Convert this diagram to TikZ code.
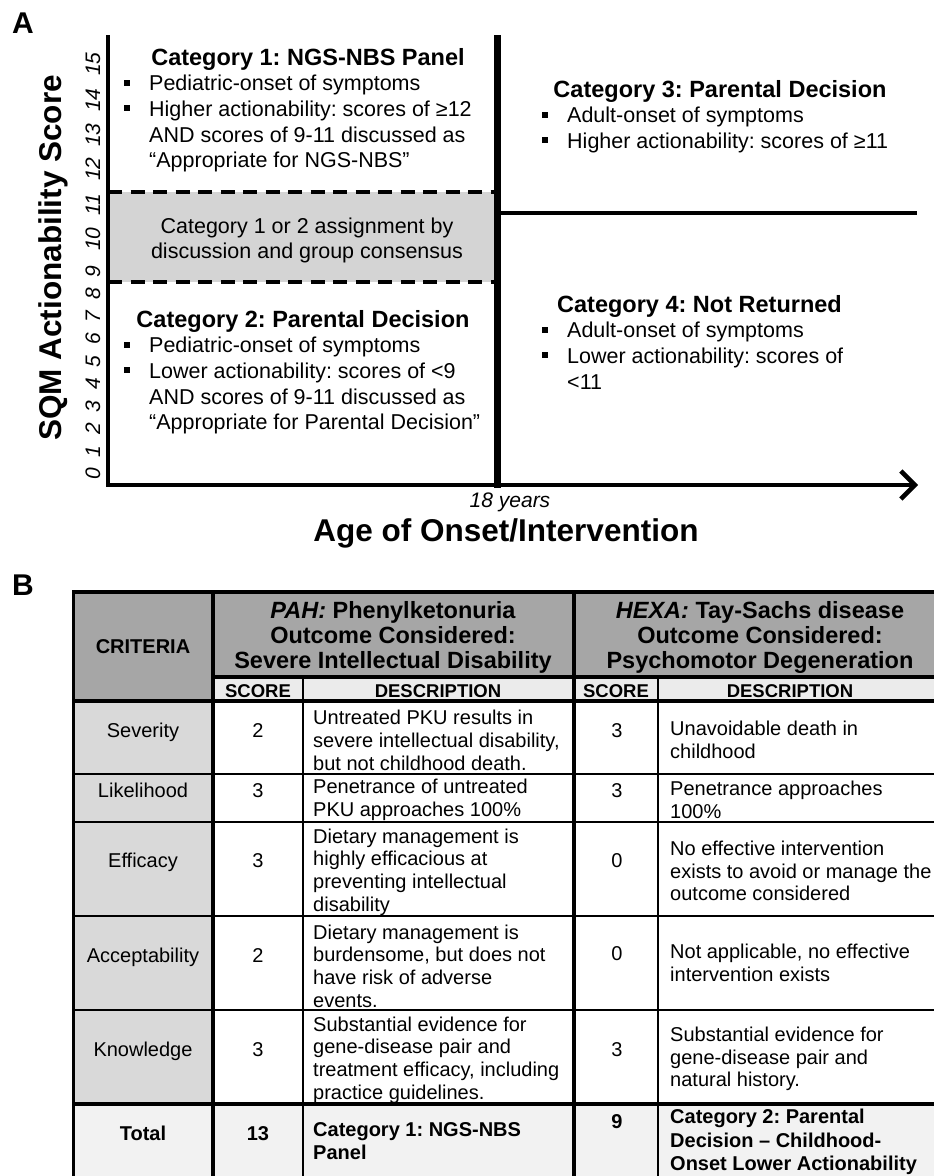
\documentclass[tikz,border=0pt]{standalone}
\usepackage{fontspec}
\setmainfont{Liberation Sans}
\usetikzlibrary{arrows.meta}
\frenchspacing

\definecolor{bandgray}{HTML}{D4D4D4}
\definecolor{hdgray}{HTML}{A6A6A6}
\definecolor{subgray}{HTML}{EBEBEB}
\definecolor{critgray}{HTML}{D9D9D9}
\definecolor{totgray}{HTML}{F2F2F2}
\newcommand{\sqb}{\rule[5pt]{6pt}{6pt}\hspace{19pt}}

\begin{document}
\begin{tikzpicture}[
  x=1pt, y=-1pt,
  panel/.style={font=\bfseries\fontsize{30}{30}\selectfont, anchor=base west, inner sep=0},
  axtitle/.style={font=\bfseries\fontsize{31.5}{31.5}\selectfont, anchor=base, inner sep=0},
  tick/.style={font=\itshape\fontsize{21}{21}\selectfont, rotate=90, anchor=base, inner sep=0},
  cathead/.style={font=\bfseries\fontsize{23.5}{25}\selectfont, anchor=base, inner sep=0},
  cattext/.style={font=\fontsize{21.5}{25.7}\selectfont, anchor=base west, inner sep=0},
  bandtext/.style={font=\fontsize{21.5}{25.7}\selectfont, anchor=base, inner sep=0},
  axis/.style={line width=4pt},
  divider/.style={line width=7pt},
  dashes/.style={line width=4pt, dash pattern=on 14pt off 8.5pt},
  hdr/.style={font=\bfseries\fontsize{23.5}{25}\selectfont, anchor=base, inner sep=0},
  colhd/.style={font=\bfseries\fontsize{18.5}{18.5}\selectfont, anchor=base, inner sep=0},
  cell/.style={font=\fontsize{20}{22.7}\selectfont, anchor=base, inner sep=0},
  desc/.style={font=\fontsize{20}{22.7}\selectfont, anchor=west, align=left, inner sep=0},
  thickrule/.style={line width=3.5pt},
  thinrule/.style={line width=1.6pt}
]
\useasboundingbox (0,0) rectangle (934,1176);
\clip (0,0) rectangle (934,1176);
\fill[white] (0,0) rectangle (934,1176);

% panel A
\node[panel] (pa) at (12,33) {A};
\fill[bandgray] (110,192) rectangle (495,282);
\draw[dashes] (108,192) -- (494,192);
\draw[dashes] (108,282) -- (494,282);
\draw[axis] (108,35) -- (108,487);
\draw[axis, -{Straight Barb[length=14pt,width=28pt,line width=4.5pt]}] (106,485) -- (918,485);
\draw[divider] (497,35) -- (497,488);
\draw[line width=3.5pt] (497,213) -- (917,213);

\node[axtitle, rotate=90] (ylab) at (61,258) {SQM Actionability Score};
\foreach \n/\y in {0/474,1/451.5,2/429,3/406.5,4/384,5/361.5,6/339,7/316.5,8/294,9/271.5,
                   10/239,11/205,12/169,13/135,14/100,15/64}
  \node[tick] (t\n) at (100,\y) {\n};
\node[font=\itshape\fontsize{21}{21}\selectfont, anchor=base, inner sep=0] (yrs) at (510,507) {18 years};
\node[axtitle] (xlab) at (506,541) {Age of Onset/Intervention};

\node[cathead] (c1t) at (308,65) {Category 1: NGS-NBS Panel};
\node[cattext] (c1a) at (124,90.7) {\sqb Pediatric-onset of symptoms};
\node[cattext] (c1b) at (124,116.4) {\sqb Higher actionability: scores of ≥12};
\node[cattext] (c1c) at (149,142.1) {AND scores of 9-11 discussed as};
\node[cattext] (c1d) at (149,167.8) {“Appropriate for NGS-NBS”};

\node[bandtext] (bd1) at (307,233) {Category 1 or 2 assignment by};
\node[bandtext] (bd2) at (307,258) {discussion and group consensus};

\node[cathead] (c2t) at (303,327) {Category 2: Parental Decision};
\node[cattext] (c2a) at (124,352.7) {\sqb Pediatric-onset of symptoms};
\node[cattext] (c2b) at (124,378.4) {\sqb Lower actionability: scores of <9};
\node[cattext] (c2c) at (149,404.1) {AND scores of 9-11 discussed as};
\node[cattext] (c2d) at (149,429.8) {“Appropriate for Parental Decision”};

\node[cathead] (c3t) at (720,97) {Category 3: Parental Decision};
\node[cattext] (c3a) at (542,122.7) {\sqb Adult-onset of symptoms};
\node[cattext] (c3b) at (542,148.4) {\sqb Higher actionability: scores of ≥11};

\node[cathead] (c4t) at (699.5,312) {Category 4: Not Returned};
\node[cattext] (c4a) at (542,337.7) {\sqb Adult-onset of symptoms};
\node[cattext] (c4b) at (542,363.4) {\sqb Lower actionability: scores of};
\node[cattext] (c4c) at (567,389.1) {<11};

% panel B
\node[panel] (pb) at (12,595) {B};
\fill[hdgray] (73.5,592) rectangle (960,677);
\fill[hdgray] (73.5,592) rectangle (213,701);
\fill[subgray] (213,677) rectangle (960,701);
\fill[critgray] (73.5,701) rectangle (213,1104);
\fill[totgray] (73.5,1104) rectangle (960,1200);
\foreach \y in {774,822,916,1010}
  \draw[thinrule] (73.5,\y) -- (960,\y);
\draw[thinrule] (303,677) -- (303,1200);
\draw[thinrule] (658,677) -- (658,1200);
\draw[thickrule] (960,592) -- (73.5,592) -- (73.5,1200);
\draw[thickrule] (213,592) -- (213,1200);
\draw[thickrule] (574,592) -- (574,1200);
\draw[thickrule] (213,677) -- (960,677);
\draw[thickrule] (73.5,701) -- (960,701);
\draw[thickrule] (73.5,1104) -- (960,1104);

\node[hdr] (pah1) at (393,618) {\textit{PAH:} Phenylketonuria};
\node[hdr] (pah2) at (393,643) {Outcome Considered:};
\node[hdr] (pah3) at (393,668) {Severe Intellectual Disability};
\node[hdr] (hexa1) at (760,618) {\textit{HEXA:} Tay-Sachs disease};
\node[hdr] (hexa2) at (760,643) {Outcome Considered:};
\node[hdr] (hexa3) at (760,668) {Psychomotor Degeneration};
\node[colhd, font=\bfseries\fontsize{20}{20}\selectfont] (crit) at (143,653) {CRITERIA};
\node[colhd] (pahsc) at (258,697) {SCORE};
\node[colhd] (pahds) at (438,697) {DESCRIPTION};
\node[colhd] (hexsc) at (616,697) {SCORE};
\node[colhd] (hexds) at (790,697) {DESCRIPTION};

\node[cell] (sev) at (143,737) {Severity};
\node[cell] (sev1) at (258,737) {2};
\node[desc] (sev2) at (313,740.5) {Untreated PKU results in\\severe intellectual disability,\\but not childhood death.};
\node[cell] (sev3) at (617,737) {3};
\node[desc] (sev4) at (670,740) {Unavoidable death in\\childhood};

\node[cell] (lik) at (143,797) {Likelihood};
\node[cell] (lik1) at (258,797) {3};
\node[desc] (lik2) at (313,800) {Penetrance of untreated\\PKU approaches 100\%};
\node[cell] (lik3) at (617,797) {3};
\node[desc] (lik4) at (670,800) {Penetrance approaches\\100\%};

\node[cell] (eff) at (143,867) {Efficacy};
\node[cell] (eff1) at (258,867) {3};
\node[desc] (eff2) at (313,872) {Dietary management is\\highly efficacious at\\preventing intellectual\\disability};
\node[cell] (eff3) at (617,867) {0};
\node[desc] (eff4) at (670,871) {No effective intervention\\exists to avoid or manage the\\outcome considered};

\node[cell] (acc) at (143,962) {Acceptability};
\node[cell] (acc1) at (258,962) {2};
\node[desc] (acc2) at (313,966) {Dietary management is\\burdensome, but does not\\have risk of adverse\\events.};
\node[cell] (acc3) at (617,960) {0};
\node[desc] (acc4) at (670,963) {Not applicable, no effective\\intervention exists};

\node[cell] (kno) at (143,1056) {Knowledge};
\node[cell] (kno1) at (258,1056) {3};
\node[desc] (kno2) at (313,1060) {Substantial evidence for\\gene-disease pair and\\treatment efficacy, including\\practice guidelines.};
\node[cell] (kno3) at (617,1056) {3};
\node[desc] (kno4) at (670,1059) {Substantial evidence for\\gene-disease pair and\\natural history.};

\node[cell, font=\bfseries\fontsize{20}{22.7}\selectfont] (tot) at (143,1140) {Total};
\node[cell, font=\bfseries\fontsize{20}{22.7}\selectfont] (tot1) at (258,1140) {13};
\node[desc, font=\bfseries\fontsize{20}{23.5}\selectfont] (tot2) at (313,1141) {Category 1: NGS-NBS\\Panel};
\node[cell, font=\bfseries\fontsize{20}{22.7}\selectfont] (tot3) at (617,1128) {9};
\node[desc, font=\bfseries\fontsize{20}{23.5}\selectfont] (tot4) at (670,1142) {Category 2: Parental\\Decision – Childhood-\\Onset Lower Actionability};
\end{tikzpicture}
\end{document}
